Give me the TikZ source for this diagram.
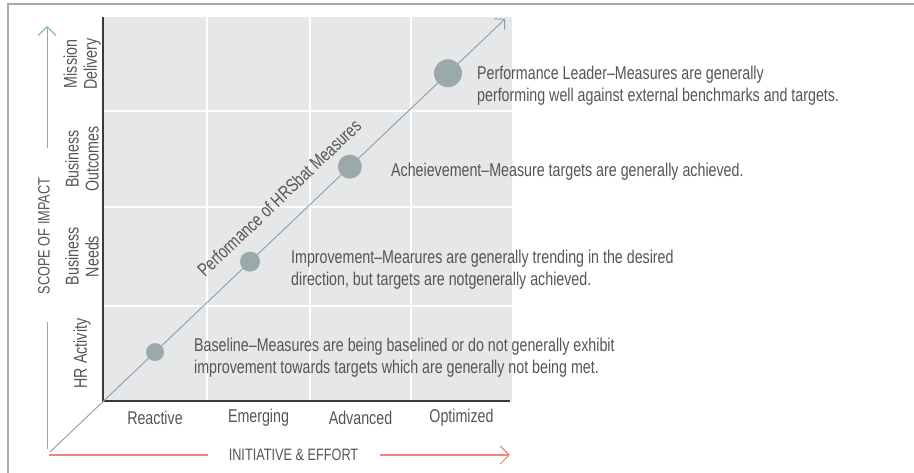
\documentclass[tikz,border=0pt]{standalone}
\usepackage{fontspec}
\setmainfont{Liberation Sans}[FakeStretch=0.77]
\usetikzlibrary{arrows.meta}
\definecolor{framegray}{HTML}{A8A8A8}
\definecolor{cellgray}{HTML}{E6E7E8}
\definecolor{axisgray}{HTML}{3A3A3A}
\definecolor{textgray}{HTML}{555555}
\definecolor{diaggray}{HTML}{8C9DAA}
\definecolor{dotgray}{HTML}{9AAAAA}
\definecolor{impactgreen}{HTML}{74C478}
\definecolor{effortred}{HTML}{F0876E}

\begin{document}
\begin{tikzpicture}[x=1pt,y=1pt,
  txt/.style={text=textgray,inner sep=0pt,font=\fontsize{18.5}{22}\selectfont},
  caps/.style={txt,font=\fontsize{16.5}{19}\selectfont},
  desc/.style={txt,anchor=west,align=left,font=\fontsize{18.5}{22}\selectfont},
  rowlab/.style={txt,rotate=90,align=center,font=\fontsize{18.5}{20}\selectfont},
  dot/.style={circle,fill=dotgray,inner sep=0pt,minimum size=#1},
  barb/.style={-{Straight Barb[length=9pt,width=18pt]}},
  gridline/.style={white,line width=2pt}]

\useasboundingbox (0,0) rectangle (914,473);
\draw[framegray,line width=1.5pt] (8,0) -- (8,469) -- (914,469);

\fill[cellgray] (103,72) rectangle (512,456);
\foreach \x in {207,310,411} \draw[gridline] (\x,72) -- (\x,456);
\foreach \y in {167,266,362} \draw[gridline] (103,\y) -- (512,\y);
\draw[axisgray,line width=1.2pt] (103,456) -- (103,72) -- (510,72);

\coordinate (o) at (50,21);
\coordinate (tip) at (505,454);
\draw[diaggray,line width=0.9pt,-{Straight Barb[length=7pt,width=15pt]}] (o) -- (tip);
\path (o) -- (tip)
  node[dot=18pt,pos=0.2308] (base) {}
  node[dot=20pt,pos=0.4396] (impr) {}
  node[dot=24pt,pos=0.659] (ach) {}
  node[dot=28pt,pos=0.8747] (lead) {}
  node[txt,pos=0.543,sloped,above=19pt] (perf) {Performance of HRSbat Measures};

\node[desc] (leadtxt) at (477,387) {Performance Leader--Measures are generally\\performing well against external benchmarks and targets.};
\node[desc] (achtxt) at (391,301) {Acheievement--Measure targets are generally achieved.};
\node[desc] (imprtxt) at (291,203) {Improvement--Mearures are generally trending in the desired\\direction, but targets are notgenerally achieved.};
\node[desc] (basetxt) at (194,115.5) {Baseline--Measures are being baselined or do not generally exhibit\\improvement towards targets which are generally not being met.};

\node[txt] (reactive) at (155,55) {Reactive};
\node[txt] (emerging) at (258.5,55) {Emerging};
\node[txt] (advanced) at (360.5,55) {Advanced};
\node[txt] (optimized) at (461.5,55) {Optimized};

\node[rowlab] (mission) at (82,409) {Mission\\Delivery};
\node[rowlab] (outcomes) at (82,314) {Business\\Outcomes};
\node[rowlab] (needs) at (82,216.5) {Business\\Needs};
\node[rowlab] (hract) at (82,119.5) {HR Activity};

\node[caps,rotate=90] (scope) at (44,237) {SCOPE OF IMPACT};
\node[caps] (effort) at (293.5,18) {INITIATIVE \& EFFORT};

\coordinate (upfrom) at (47,325);
\coordinate (upto) at (47,447);
\coordinate (downfrom) at (47,151);
\coordinate (downto) at (47,24);
\draw[impactgreen,line width=1pt,barb] (upfrom) -- (upto);
\draw[impactgreen,line width=1pt] (downfrom) -- (downto);

\coordinate (leftfrom) at (49,18);
\coordinate (leftto) at (208,18);
\coordinate (rightfrom) at (380,18);
\coordinate (rightto) at (510,18);
\draw[effortred,line width=1.2pt] (leftfrom) -- (leftto);
\draw[effortred,line width=1.2pt,barb] (rightfrom) -- (rightto);

\end{tikzpicture}
\end{document}
